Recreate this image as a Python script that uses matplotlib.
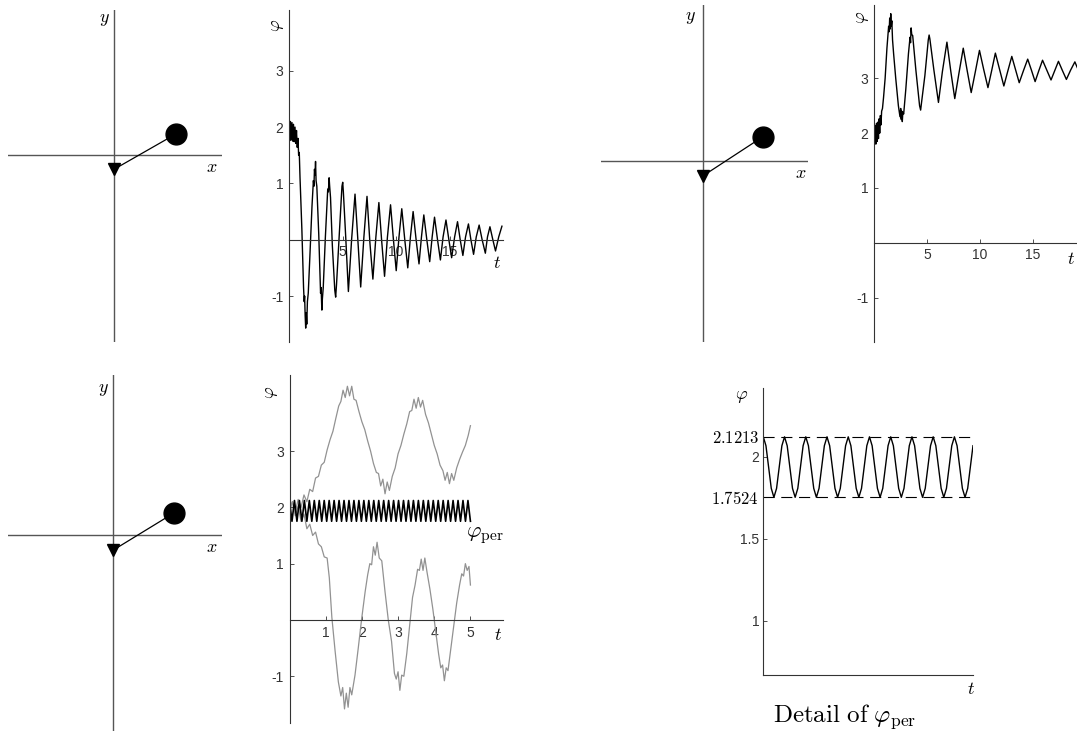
import numpy as np
import matplotlib.pyplot as plt

plt.rcParams['mathtext.fontset'] = 'cm'
plt.rcParams['font.family'] = ['Liberation Sans', 'DejaVu Sans']

W, H = 1077, 731

# pendulum angles (rad) and pivot offsets shown in the three sketches
pend_phi = [2.09, 2.15, 2.12]
pend_pivot = [-0.2, -0.21, -0.21]

# damped run, top middle
t_down = [0.00, 0.07, 0.14, 0.21, 0.28, 0.35, 0.42, 0.49, 0.56, 0.63, 0.70, 0.77, 0.84, 0.90, 0.96, 1.03,
          1.20, 1.36, 1.42, 1.46, 1.51, 1.56, 1.61, 1.66, 1.72, 1.80, 1.95,
          2.15, 2.28, 2.33, 2.38, 2.43, 2.48, 2.53, 2.60, 2.78,
          2.95, 3.00, 3.07, 3.12, 3.20,
          3.40, 3.62, 3.68, 3.75, 3.80, 3.88,
          4.05, 4.28, 4.36, 4.44,
          4.70, 4.95, 5.02, 5.08,
          5.30, 5.55, 5.85, 6.17, 6.45, 6.70, 7.00, 7.29, 7.56, 7.84, 8.12, 8.40, 8.66, 8.93,
          9.20, 9.49, 9.76, 10.02, 10.28, 10.54, 10.82, 11.10, 11.35, 11.60, 11.88, 12.15,
          12.38, 12.60, 12.88, 13.15, 13.38, 13.60, 13.88, 14.15, 14.40, 14.67, 14.94, 15.20,
          15.48, 15.75, 16.00, 16.25, 16.50, 16.77, 17.00, 17.25, 17.50, 17.77, 18.05, 18.35,
          18.55, 18.78, 19.05, 19.30, 19.60, 19.90]
phi_down = [2.05, 1.76, 2.10, 1.77, 2.08, 1.75, 2.05, 1.74, 2.00, 1.71, 1.94, 1.64, 1.80, 1.50, 1.55, 1.10,
            0.20, -0.85, -1.10, -1.00, -1.35, -1.57, -1.30, -1.50, -1.10, -0.95, -0.30,
            0.60, 1.05, 0.95, 1.25, 1.15, 1.39, 1.05, 0.95, 0.10,
            -0.95, -0.85, -1.25, -1.05, -0.85,
            0.05, 0.90, 0.85, 1.10, 0.95, 0.75,
            -0.10, -0.90, -1.02, -0.80,
            0.10, 0.95, 1.02, 0.85,
            0.05, -0.92, 0.00, 0.81, -0.05, -0.84, 0.05, 0.77, -0.05, -0.70, 0.05, 0.66, -0.02, -0.65,
            0.05, 0.62, 0.00, -0.55, 0.05, 0.55, 0.00, -0.50, 0.05, 0.50, 0.00, -0.43,
            0.05, 0.44, 0.00, -0.39, 0.05, 0.40, 0.00, -0.36, 0.05, 0.35, 0.00, -0.32,
            0.05, 0.32, 0.00, -0.28, 0.05, 0.28, 0.00, -0.26, 0.05, 0.26, 0.00, -0.24,
            0.05, 0.23, 0.00, -0.20, 0.05, 0.24]

# damped run, top right
t_up = [0.00, 0.06, 0.12, 0.18, 0.24, 0.30, 0.36, 0.42, 0.48, 0.54, 0.60, 0.66, 0.72, 0.80, 0.90, 1.05,
        1.22, 1.32, 1.38, 1.43, 1.48, 1.53, 1.58, 1.63, 1.68, 1.75, 1.85, 2.05,
        2.30, 2.45, 2.52, 2.57, 2.62, 2.67, 2.72, 2.80, 3.00,
        3.25, 3.40, 3.45, 3.50, 3.56, 3.65, 3.95,
        4.30, 4.40, 4.48, 4.80,
        5.12, 5.20, 5.27, 5.65,
        6.08, 6.45, 6.88, 7.25, 7.62, 8.02, 8.42, 8.80, 9.17, 9.56, 9.95, 10.35, 10.75,
        11.10, 11.45, 11.85, 12.25, 12.62, 13.00, 13.35, 13.70, 14.10, 14.50, 14.85, 15.20,
        15.55, 15.90, 16.30, 16.70, 17.05, 17.40, 17.78, 18.15, 18.55, 18.95, 19.30, 19.65]
phi_up = [2.00, 1.80, 2.14, 1.80, 2.18, 1.85, 2.20, 1.90, 2.26, 2.00, 2.32, 2.15, 2.40, 2.45, 2.65, 3.00,
          3.55, 3.80, 3.95, 3.85, 4.10, 3.90, 4.18, 3.95, 4.05, 3.70, 3.45, 3.00,
          2.50, 2.30, 2.45, 2.25, 2.40, 2.21, 2.38, 2.35, 2.80,
          3.45, 3.75, 3.65, 3.92, 3.80, 3.78, 3.15,
          2.50, 2.42, 2.55, 3.05,
          3.70, 3.79, 3.72, 3.15,
          2.56, 3.12, 3.66, 3.12, 2.63, 3.10, 3.55, 3.13, 2.74, 3.12, 3.51, 3.16, 2.83,
          3.14, 3.46, 3.16, 2.86, 3.13, 3.40, 3.16, 2.92, 3.14, 3.35, 3.15, 2.94,
          3.14, 3.33, 3.15, 2.97, 3.14, 3.31, 3.14, 2.98, 3.15, 3.30, 3.14, 3.00]

# bottom middle: two grey runs and the periodic solution
t_g1 = [0.00, 0.08, 0.16, 0.24, 0.32, 0.40, 0.48, 0.56, 0.64, 0.72, 0.80, 0.88, 0.96, 1.04, 1.12, 1.20,
        1.28, 1.36, 1.42, 1.48, 1.54, 1.60, 1.66, 1.72, 1.78, 1.84, 1.92, 2.00, 2.08, 2.16, 2.24, 2.32,
        2.40, 2.46, 2.52, 2.58, 2.64, 2.70, 2.76, 2.84, 2.92, 3.00, 3.08, 3.16, 3.24, 3.32, 3.38, 3.44,
        3.50, 3.56, 3.62, 3.68, 3.76, 3.84, 3.92, 4.00, 4.08, 4.16, 4.24, 4.30, 4.36, 4.42, 4.48, 4.54,
        4.62, 4.70, 4.78, 4.86, 4.94, 5.00]
phi_g1 = [1.95, 2.10, 1.92, 2.14, 2.00, 2.22, 2.10, 2.32, 2.28, 2.52, 2.55, 2.75, 2.80, 3.02, 3.20, 3.35,
          3.58, 3.80, 3.88, 4.08, 3.95, 4.15, 3.98, 4.15, 3.92, 3.90, 3.70, 3.52, 3.38, 3.18, 3.00, 2.78,
          2.62, 2.60, 2.38, 2.50, 2.24, 2.45, 2.30, 2.55, 2.70, 2.95, 3.10, 3.30, 3.48, 3.70, 3.72, 3.92,
          3.76, 3.95, 3.78, 3.90, 3.65, 3.50, 3.30, 3.10, 2.95, 2.75, 2.65, 2.48, 2.62, 2.42, 2.60, 2.48,
          2.70, 2.85, 2.98, 3.10, 3.28, 3.45]
t_g2 = [0.00, 0.08, 0.16, 0.24, 0.32, 0.40, 0.48, 0.56, 0.64, 0.72, 0.80, 0.88, 0.96, 1.04, 1.10, 1.17,
        1.26, 1.35, 1.42, 1.47, 1.52, 1.57, 1.62, 1.67, 1.72, 1.81, 1.90, 1.99, 2.09, 2.16, 2.22, 2.27,
        2.32, 2.37, 2.42, 2.48, 2.55, 2.64, 2.73, 2.82, 2.90, 2.95, 3.00, 3.05, 3.10, 3.16, 3.24, 3.32,
        3.40, 3.47, 3.54, 3.59, 3.64, 3.69, 3.74, 3.80, 3.88, 3.96, 4.04, 4.12, 4.18, 4.23, 4.28, 4.33,
        4.38, 4.46, 4.54, 4.62, 4.70, 4.76, 4.81, 4.86, 4.91, 4.96, 5.00]
phi_g2 = [1.95, 2.10, 1.85, 2.02, 1.75, 1.88, 1.62, 1.70, 1.50, 1.56, 1.35, 1.30, 1.12, 1.10, 0.75, 0.05,
          -0.55, -1.10, -1.35, -1.20, -1.58, -1.30, -1.55, -1.20, -1.33, -0.98, -0.50, 0.00, 0.50, 0.80,
          1.00, 0.98, 1.30, 1.15, 1.38, 1.10, 1.05, 0.50, 0.00, -0.38, -0.95, -1.05, -0.92, -1.25, -0.98,
          -1.00, -0.60, -0.10, 0.40, 0.62, 0.90, 0.88, 1.08, 0.88, 1.10, 0.85, 0.55, 0.20, -0.20, -0.60,
          -0.85, -0.80, -1.08, -0.85, -0.90, -0.50, -0.10, 0.30, 0.62, 0.82, 0.78, 1.00, 0.88, 0.95, 0.62]

PMAX, PMIN = 2.1213, 1.7524
# extrema of phi_per over 0..5 (36.5 cycles)
phi_per = [PMAX, PMIN, PMAX, PMIN, PMAX, PMIN, PMAX, PMIN, PMAX, PMIN, PMAX, PMIN, PMAX, PMIN, PMAX, PMIN,
           PMAX, PMIN, PMAX, PMIN, PMAX, PMIN, PMAX, PMIN, PMAX, PMIN, PMAX, PMIN, PMAX, PMIN, PMAX, PMIN,
           PMAX, PMIN, PMAX, PMIN, PMAX, PMIN, PMAX, PMIN, PMAX, PMIN, PMAX, PMIN, PMAX, PMIN, PMAX, PMIN,
           PMAX, PMIN, PMAX, PMIN, PMAX, PMIN, PMAX, PMIN, PMAX, PMIN, PMAX, PMIN, PMAX, PMIN, PMAX, PMIN,
           PMAX, PMIN, PMAX, PMIN, PMAX, PMIN, PMAX, PMIN, PMAX, PMIN]
t_per = np.linspace(0, 5, len(phi_per))

# detail of phi_per, eight samples per cycle
phi_detail = [2.1213, 2.067, 1.937, 1.807, 1.7524, 1.807, 1.937, 2.067,
              2.1213, 2.067, 1.937, 1.807, 1.7524, 1.807, 1.937, 2.067,
              2.1213, 2.067, 1.937, 1.807, 1.7524, 1.807, 1.937, 2.067,
              2.1213, 2.067, 1.937, 1.807, 1.7524, 1.807, 1.937, 2.067,
              2.1213, 2.067, 1.937, 1.807, 1.7524, 1.807, 1.937, 2.067,
              2.1213, 2.067, 1.937, 1.807, 1.7524, 1.807, 1.937, 2.067,
              2.1213, 2.067, 1.937, 1.807, 1.7524, 1.807, 1.937, 2.067,
              2.1213, 2.067, 1.937, 1.807, 1.7524, 1.807, 1.937, 2.067,
              2.1213, 2.067, 1.937, 1.807, 1.7524, 1.807, 1.937, 2.067,
              2.1213, 2.067, 1.937, 1.807, 1.7524, 1.807, 1.937, 2.067]
t_detail = np.arange(len(phi_detail)) * (5 / 36.5 / 8)

AX_COL = '#333333'
PEND_COL = '#555555'

fig = plt.figure(figsize=(W / 100, H / 100), dpi=100)


def px_axes(x0, x1, y0, y1):
    return fig.add_axes([x0 / W, 1 - y1 / H, (x1 - x0) / W, (y1 - y0) / H])


def label(x, y, s, size=13, **kw):
    fig.text(x / W, 1 - y / H, s, ha='center', va='center', fontsize=size, **kw)


def pendulum(rect, origin, phi, pivot_y, scale=71.7):
    x0, x1, y0, y1 = rect
    ox, oy = origin
    ax = px_axes(x0, x1, y0, y1)
    ax.set_xlim((x0 - ox) / scale, (x1 - ox) / scale)
    ax.set_ylim((oy - y1) / scale, (oy - y0) / scale)
    ax.axis('off')
    ax.axhline(0, color=PEND_COL, lw=1.0)
    ax.axvline(0, color=PEND_COL, lw=1.0)
    bx, by = np.sin(phi), pivot_y - np.cos(phi)
    ax.plot([0, bx], [pivot_y, by], color='k', lw=0.9)
    ax.plot([0], [pivot_y], marker='v', ms=8, color='k')
    ax.plot([bx], [by], marker='o', ms=15, color='k')


def time_axes(rect, xlim, ylim, xticks, yticks):
    ax = px_axes(*rect)
    ax.set_xlim(*xlim)
    ax.set_ylim(*ylim)
    ax.patch.set_alpha(0)
    ax.spines['top'].set_visible(False)
    ax.spines['right'].set_visible(False)
    ax.spines['bottom'].set_position(('data', 0))
    for s in ['left', 'bottom']:
        ax.spines[s].set_color(AX_COL)
        ax.spines[s].set_linewidth(0.8)
    ax.set_xticks(xticks)
    ax.set_yticks(yticks)
    ax.set_xticklabels([str(v) for v in xticks])
    ax.set_yticklabels([str(v) for v in yticks])
    ax.tick_params(direction='in', length=3, width=0.6, labelsize=10,
                   colors=AX_COL, pad=4)
    return ax


# pendulum sketches
pendulum((8, 222, 10, 342), (114, 155), pend_phi[0], pend_pivot[0])
label(104, 20, '$y$')
label(212, 168, '$x$')
pendulum((601, 808, 5, 342), (702.7, 161), pend_phi[1], pend_pivot[1])
label(690, 18, '$y$')
label(801, 173, '$x$')
pendulum((8, 222, 375, 731), (113.3, 535), pend_phi[2], pend_pivot[2])
label(103, 390, '$y$')
label(212, 548, '$x$')

# top middle
ax = time_axes((289, 503, 10, 342), (0, 20), (-1.817, 4.08), [5, 10, 15], [-1, 1, 2, 3])
ax.plot(t_down, phi_down, color='k', lw=1.0)
label(277, 25, r'$\varphi$', rotation=90)
label(497, 263, '$t$')

# top right (runs past the figure edge)
ax = time_axes((874, 1086, 5, 342), (0, 20), (-1.812, 4.338), [5, 10, 15], [-1, 1, 2, 3])
ax.plot(t_up, phi_up, color='k', lw=1.0)
label(862, 17, r'$\varphi$', rotation=90)
label(1071, 260, '$t$')

# bottom middle
ax = time_axes((289.5, 503, 375, 723), (0, 5.9), (-1.83, 4.35), [1, 2, 3, 4, 5], [-1, 1, 2, 3])
ax.plot(t_g1, phi_g1, color='#929292', lw=0.9)
ax.plot(t_g2, phi_g2, color='#929292', lw=0.9)
ax.plot(t_per, phi_per, color='k', lw=1.2)
label(272, 392, r'$\varphi$', rotation=90)
label(498, 636, '$t$')
label(485, 536, r'$\varphi_{\rm per}$', size=16)

# detail of phi_per
ax = px_axes(763.3, 973, 388, 675)
ax.set_xlim(0, t_detail[-1])
ax.set_ylim(0.669, 2.419)
ax.patch.set_alpha(0)
ax.spines['top'].set_visible(False)
ax.spines['right'].set_visible(False)
for s in ['left', 'bottom']:
    ax.spines[s].set_color(AX_COL)
    ax.spines[s].set_linewidth(0.8)
ax.set_xticks([])
ax.set_yticks([1, 1.5, PMIN, 2, PMAX])
ax.set_yticklabels(['1', '1.5', '$1.7524$', '2', '$2.1213$'])
ax.tick_params(direction='in', length=3, width=0.6, labelsize=10, colors=AX_COL, pad=3)
for tl in ax.get_yticklabels():
    if tl.get_text().startswith('$'):
        tl.set_fontsize(12)
        tl.set_color('k')
ax.axhline(PMAX, color='k', lw=0.8, dashes=(10, 6))
ax.axhline(PMIN, color='k', lw=0.8, dashes=(10, 6))
ax.plot(t_detail, phi_detail, color='k', lw=1.0)
label(742, 396, r'$\varphi$')
label(971, 689, '$t$')
label(845, 717, r'$\mathrm{Detail\ of}\ \varphi_{\rm per}$', size=18)

fig.savefig('out.png', dpi=100)
